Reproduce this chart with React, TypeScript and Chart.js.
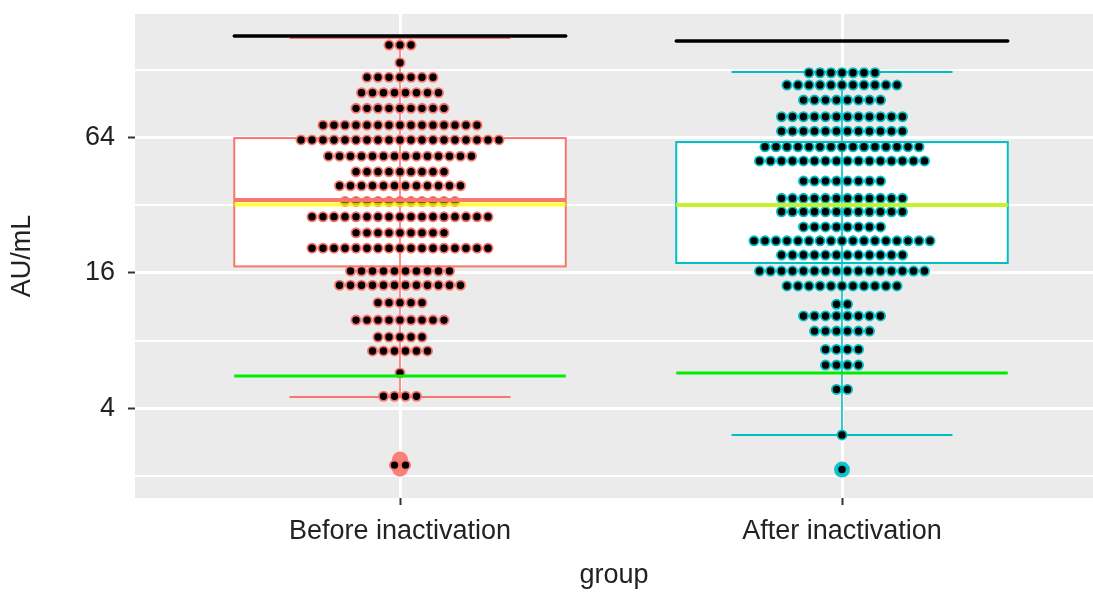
import React, { useEffect, useRef } from "react";
import { Chart, registerables } from "chart.js";

Chart.register(...registerables);

// ---- Data ----
const groups = ["Before inactivation", "After inactivation"];
const boxColors = ["#F8766D", "#00BFC4"];

const q1 = [17.1, 17.7];
const median = [33.7, 32.0];
const q3 = [63.5, 61.0];
const whiskerLow = [4.5, 3.05];
const whiskerHigh = [176.8, 124.9];
const meanLine = [32.2, 32.0];
const greenLine = [5.57, 5.74];
const blackLine = [180.4, 171.4];

const beforeOutliers = [2.37, 2.16];
const afterOutliers = [2.14];

const beforeBinValues = [164.5, 137.3, 118.3, 101, 86.1, 72.5, 62.3, 52.8, 45.0, 39.0, 33.2, 28.4, 24.1, 20.6, 16.3, 14.1, 11.8, 9.87, 8.3, 7.2, 5.75, 4.53, 2.24];
const beforeBinCounts = [3, 1, 7, 8, 9, 15, 19, 14, 9, 12, 11, 17, 9, 17, 10, 12, 5, 9, 5, 6, 1, 4, 2];

const afterBinValues = [123.9, 109.3, 93.7, 79.0, 68.2, 58.1, 50.3, 40.9, 34.3, 29.9, 25.6, 22.2, 19.2, 16.3, 14.0, 11.6, 10.3, 8.82, 7.31, 6.23, 4.86, 3.05, 2.14];
const afterBinCounts = [7, 11, 8, 12, 12, 15, 16, 8, 12, 12, 8, 17, 12, 16, 11, 2, 8, 6, 4, 4, 2, 1, 1];

const yTickValues = [2, 4, 8, 16, 32, 64, 128];
const yLabelled = [4, 16, 64];

// ---- layout constants ----
const W = 1093;
const H = 594;
const PANEL_TOP = 14;
const DOT_STEP = 11 / 442;
const BOX_HALF = 0.375;
const CAP_HALF = 0.25;

function buildDots(g: number, values: number[], counts: number[]) {
  const pts: { x: number; y: number }[] = [];
  values.forEach((v, r) => {
    const n = counts[r];
    for (let k = 0; k < n; k++) pts.push({ x: g + (k - (n - 1) / 2) * DOT_STEP, y: v });
  });
  return pts;
}

function hLine(g: number, v: number, half: number) {
  return [
    { x: g - half, y: v },
    { x: g + half, y: v },
  ];
}

function pickFont() {
  try {
    const c = document.createElement("canvas").getContext("2d")!;
    c.font = "32px 'Liberation Sans Narrow', monospace";
    const w1 = c.measureText("Before inactivation").width;
    c.font = "32px monospace";
    const w2 = c.measureText("Before inactivation").width;
    if (Math.abs(w1 - w2) > 1) return { family: "'Liberation Sans Narrow', 'Arial Narrow', sans-serif", size: 32 };
  } catch (e) {}
  return { family: "'Liberation Sans', Arial, sans-serif", size: 27 };
}

const bgPlugin = {
  id: "panelBg",
  beforeDraw(chart: any) {
    const { ctx, chartArea } = chart;
    ctx.save();
    ctx.fillStyle = "#EBEBEB";
    ctx.fillRect(chartArea.left, chartArea.top, chartArea.right - chartArea.left, chartArea.bottom - chartArea.top);
    ctx.restore();
  },
};

const boxPlugin = {
  id: "boxes",
  beforeDatasetsDraw(chart: any) {
    const { ctx } = chart;
    const x = chart.scales.x;
    const y = chart.scales.y;
    ctx.save();
    groups.forEach((_, i) => {
      const xl = x.getPixelForValue(i + 1 - BOX_HALF);
      const xr = x.getPixelForValue(i + 1 + BOX_HALF);
      const yt = y.getPixelForValue(q3[i]);
      const yb = y.getPixelForValue(q1[i]);
      ctx.fillStyle = "#FFFFFF";
      ctx.fillRect(xl, yt, xr - xl, yb - yt);
      ctx.strokeStyle = boxColors[i];
      ctx.lineWidth = 2;
      ctx.strokeRect(xl, yt, xr - xl, yb - yt);
    });
    ctx.restore();
  },
};

export default function App() {
  const ref = useRef<HTMLCanvasElement>(null);
  useEffect(() => {
    document.body.style.margin = "0";
    const font = pickFont();
    const datasets: any[] = [];

    groups.forEach((_, i) => {
      const g = i + 1;
      datasets.push({
        type: "line",
        data: [
          { x: g, y: whiskerLow[i] },
          { x: g, y: whiskerHigh[i] },
        ],
        borderColor: boxColors[i],
        borderWidth: 1.6,
        pointRadius: 0,
        showLine: true,
        order: 10,
      });
      datasets.push({ type: "line", data: hLine(g, whiskerHigh[i], CAP_HALF), borderColor: boxColors[i], borderWidth: 2, pointRadius: 0, showLine: true, order: 10 });
      datasets.push({ type: "line", data: hLine(g, whiskerLow[i], CAP_HALF), borderColor: boxColors[i], borderWidth: 2, pointRadius: 0, showLine: true, order: 10 });
    });

    datasets.push({
      type: "scatter",
      data: beforeOutliers.map((v) => ({ x: 1, y: v })),
      backgroundColor: "rgba(248,118,109,0.9)",
      borderWidth: 0,
      pointRadius: 8,
      order: 8,
    });
    datasets.push({
      type: "scatter",
      data: afterOutliers.map((v) => ({ x: 2, y: v })),
      backgroundColor: "rgba(0,191,196,0.9)",
      borderWidth: 0,
      pointRadius: 8,
      order: 8,
    });

    datasets.push({
      type: "scatter",
      data: buildDots(1, beforeBinValues, beforeBinCounts),
      backgroundColor: "#000000",
      borderColor: boxColors[0],
      borderWidth: 1.8,
      pointRadius: 4.6,
      order: 5,
    });
    datasets.push({
      type: "scatter",
      data: buildDots(2, afterBinValues, afterBinCounts),
      backgroundColor: "#000000",
      borderColor: boxColors[1],
      borderWidth: 1.8,
      pointRadius: 4.6,
      order: 5,
    });

    groups.forEach((_, i) => {
      const g = i + 1;
      datasets.push({ type: "line", data: hLine(g, median[i], BOX_HALF), borderColor: boxColors[i], borderWidth: 4, pointRadius: 0, showLine: true, order: 3 });
      datasets.push({ type: "line", data: hLine(g, meanLine[i], BOX_HALF), borderColor: "rgba(255,255,0,0.78)", borderWidth: 4, pointRadius: 0, showLine: true, order: 2 });
      datasets.push({ type: "line", data: hLine(g, greenLine[i], BOX_HALF), borderColor: "#00EE00", borderWidth: 3, pointRadius: 0, showLine: true, order: 1 });
      datasets.push({ type: "line", data: hLine(g, blackLine[i], BOX_HALF), borderColor: "#000000", borderWidth: 3.5, pointRadius: 0, showLine: true, borderCapStyle: "round", order: 1 });
    });

    const chart = new Chart(ref.current!, {
      type: "scatter",
      data: { datasets },
      plugins: [bgPlugin, boxPlugin],
      options: {
        animation: false,
        responsive: false,
        devicePixelRatio: 1,
        layout: { autoPadding: false, padding: { top: PANEL_TOP, left: 0, right: 0, bottom: 0 } },
        plugins: { legend: { display: false }, tooltip: { enabled: false } },
        scales: {
          x: {
            type: "linear",
            min: 1 - 265 / 442,
            max: 2 + 251 / 442,
            afterBuildTicks: (s: any) => {
              s.ticks = [{ value: 1 }, { value: 2 }];
            },
            afterFit: (s: any) => {
              s.height = 96;
              s.paddingLeft = 0;
              s.paddingRight = 0;
            },
            ticks: {
              callback: (v: any) => groups[Math.round(v) - 1] ?? "",
              font: { family: font.family, size: font.size },
              color: "#222",
              padding: 10,
              maxRotation: 0,
              autoSkip: false,
            },
            grid: { color: "#FFFFFF", lineWidth: 3, tickColor: "#333", tickLength: 7, tickWidth: 2 },
            border: { display: false },
            title: {
              display: true,
              text: "group",
              font: { family: font.family, size: font.size },
              color: "#222",
              padding: { top: 0, bottom: 2 },
            },
          },
          y: {
            type: "logarithmic",
            min: 1.6,
            max: 226,
            afterBuildTicks: (s: any) => {
              s.ticks = yTickValues.map((v) => ({ value: v }));
            },
            afterFit: (s: any) => {
              s.width = 135;
              s.paddingTop = 0;
              s.paddingBottom = 0;
            },
            ticks: {
              callback: (v: any) => (yLabelled.includes(v) ? String(v) : ""),
              font: { family: font.family, size: font.size },
              color: "#222",
              padding: 13,
              autoSkip: false,
            },
            grid: {
              color: "#FFFFFF",
              lineWidth: (c: any) => (yLabelled.includes(c.tick?.value) ? 3 : 2),
              tickColor: (c: any) => (yLabelled.includes(c.tick?.value) ? "#333" : "rgba(0,0,0,0)"),
              tickLength: 7,
              tickWidth: 2,
            },
            border: { display: false },
            title: {
              display: true,
              text: "AU/mL",
              font: { family: font.family, size: font.size },
              color: "#222",
              padding: { top: 6, bottom: 0 },
            },
          },
        },
      } as any,
    });
    return () => chart.destroy();
  }, []);

  return (
    <div style={{ position: "absolute", left: 0, top: 0, width: W, height: H, background: "#fff" }}>
      <canvas ref={ref} width={W} height={H} style={{ display: "block" }} />
    </div>
  );
}
